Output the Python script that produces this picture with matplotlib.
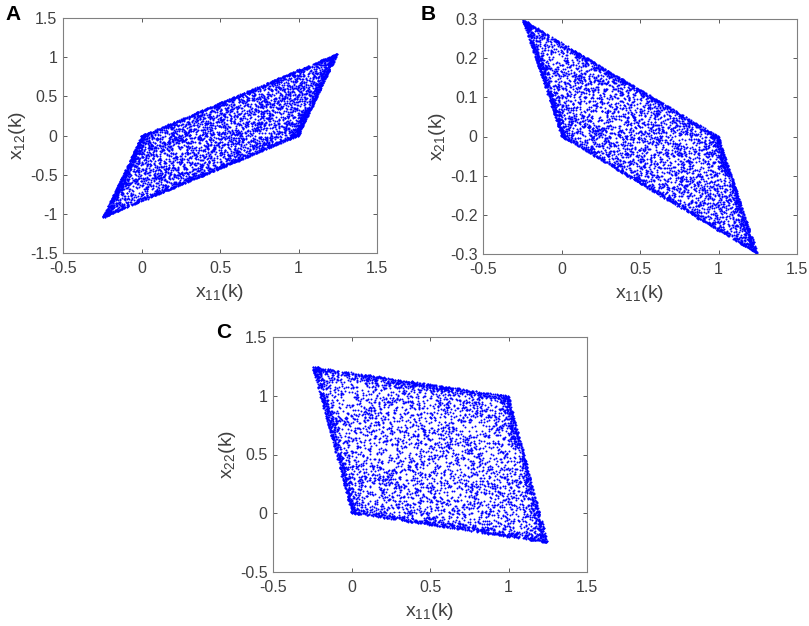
import numpy as np
import matplotlib
matplotlib.use("Agg")
import matplotlib.pyplot as plt

plt.rcParams["font.family"] = ["Liberation Sans", "DejaVu Sans"]

# corner values: state = c_a * a + c_b * b, a, b in [0, 1]
x11_coef = [1.25, -0.25]
x12_coef = [1.05, -1.05]
x21_coef = [-0.30, 0.30]
x22_coef = [-0.25, 1.25]

panel_letters = ["A", "B", "C"]
y_labels = [r"$\mathregular{x_{12}(k)}$", r"$\mathregular{x_{21}(k)}$", r"$\mathregular{x_{22}(k)}$"]
x_label = r"$\mathregular{x_{11}(k)}$"
x_ticks = [-0.5, 0, 0.5, 1, 1.5]
y_ticks = [
    [-1.5, -1, -0.5, 0, 0.5, 1, 1.5],
    [-0.3, -0.2, -0.1, 0, 0.1, 0.2, 0.3],
    [-0.5, 0, 0.5, 1, 1.5],
]

# the cloud cannot be read point by point: a fixed seed samples the two
# coefficients, uniform inside plus a denser band along the edges
rng = np.random.default_rng(7)
n_in, n_edge = 3200, 2000
a = rng.uniform(0, 1, n_in)
b = rng.uniform(0, 1, n_in)
ea = rng.uniform(0, 1, n_edge)
eb = np.abs(rng.normal(0, 0.022, n_edge)).clip(0, 1)
flip = rng.integers(0, 2, n_edge).astype(bool)
eb[flip] = 1 - eb[flip]
swap = rng.integers(0, 2, n_edge).astype(bool)
a_all = np.concatenate([a, np.where(swap, eb, ea)])
b_all = np.concatenate([b, np.where(swap, ea, eb)])


def state(coef):
    return coef[0] * a_all + coef[1] * b_all


x11 = state(x11_coef)
ys = [state(x12_coef), state(x21_coef), state(x22_coef)]

W, H = 809, 626
fig = plt.figure(figsize=(W / 100, H / 100), dpi=100)
boxes = [(63, 18), (483, 19), (273, 337)]   # left, top in px
aw, ah = 314, 235
letter_pos = [(5, 5), (421, 5), (216, 323)]

axis_col = "#404040"
for i in range(3):
    l, t = boxes[i]
    ax = fig.add_axes([l / W, (H - t - ah) / H, aw / W, ah / H])
    ax.scatter(x11, ys[i], s=2.0, c="#0000ff", marker="o", linewidths=0)
    ax.set_xlim(-0.5, 1.5)
    ax.set_ylim(y_ticks[i][0], y_ticks[i][-1])
    ax.set_xticks(x_ticks)
    ax.set_xticklabels([f"{v:g}" for v in x_ticks])
    ax.set_yticks(y_ticks[i])
    ax.set_yticklabels([f"{v:g}" for v in y_ticks[i]])
    ax.tick_params(axis="both", direction="in", top=True, right=True, length=3,
                   labelsize=11.5, colors=axis_col, width=0.6)
    ax.tick_params(axis="x", pad=6)
    ax.tick_params(axis="y", pad=4)
    for sp in ax.spines.values():
        sp.set_edgecolor("#808080")
        sp.set_linewidth(0.8)
    ax.set_xlabel(x_label, fontsize=14, color=axis_col, labelpad=4)
    ax.set_ylabel(y_labels[i], fontsize=14, color=axis_col, labelpad=1)
    lx, ly = letter_pos[i]
    fig.text(lx / W, 1 - ly / H, panel_letters[i], fontsize=15,
             fontweight="bold", va="top", ha="left", color="black")

fig.savefig("out.png", dpi=100)
